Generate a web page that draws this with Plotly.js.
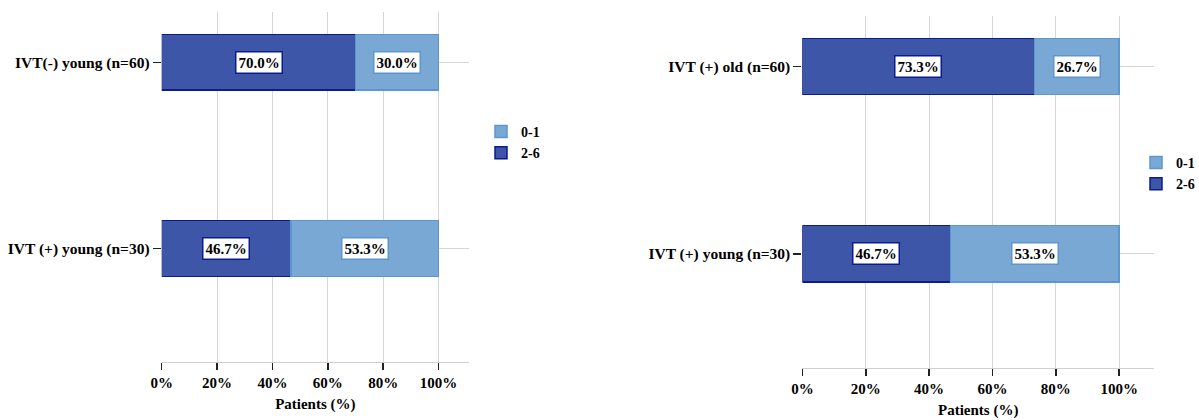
<!DOCTYPE html>
<html>
<head>
<meta charset="utf-8">
<script src="https://cdn.plot.ly/plotly-3.0.1.min.js"></script>
<style>html,body{margin:0;padding:0;background:#fff;}#chart{width:1199px;height:420px;}</style>
</head>
<body>
<div id="chart"></div>
<script>
// Left panel
const leftCategories = ["IVT (+) young (n=30)", "IVT(-) young (n=60)"];
const leftPoor = [46.7, 70.0];   // 2-6
const leftGood = [53.3, 30.0];   // 0-1
// Right panel
const rightCategories = ["IVT (+) young (n=30)", "IVT (+) old (n=60)"];
const rightPoor = [46.7, 73.3];  // 2-6
const rightGood = [53.3, 26.7];  // 0-1
const seriesNames = ["2-6", "0-1"];
const xTickVals = [0, 20, 40, 60, 80, 100];
const xTickText = ["0%", "20%", "40%", "60%", "80%", "100%"];
const xTitle = "Patients (%)";

const DARK = "#3e56a7", DARK_LINE = "#0b1d8c";
const LIGHT = "#79a8d5", LIGHT_LINE = "#5d95cd";
const FONT = "Liberation Serif";

function bars(cats, poor, good, xa, ya, leg) {
  return [
    {type: "bar", orientation: "h", name: seriesNames[0], y: cats, x: poor, xaxis: xa, yaxis: ya, legend: leg,
     marker: {color: DARK, line: {color: DARK_LINE, width: 1.5}}, hoverinfo: "skip"},
    {type: "bar", orientation: "h", name: seriesNames[1], y: cats, x: good, xaxis: xa, yaxis: ya, legend: leg,
     marker: {color: LIGHT, line: {color: LIGHT_LINE, width: 1.5}}, hoverinfo: "skip"}
  ];
}
function labels(cats, poor, good, xa, ya) {
  const out = [];
  cats.forEach((c, i) => {
    out.push({x: poor[i] / 2, y: c, xref: xa, yref: ya, text: poor[i].toFixed(1) + "%", showarrow: false,
      bgcolor: "#fff", bordercolor: DARK_LINE, borderwidth: 1.5, borderpad: 2,
      font: {family: FONT, size: 15, color: "#000", weight: "bold"}});
    out.push({x: poor[i] + good[i] / 2, y: c, xref: xa, yref: ya, text: good[i].toFixed(1) + "%", showarrow: false,
      bgcolor: "#fff", bordercolor: LIGHT_LINE, borderwidth: 1.5, borderpad: 2,
      font: {family: FONT, size: 15, color: "#000", weight: "bold"}});
  });
  return out;
}

const data = [].concat(
  bars(leftCategories, leftPoor, leftGood, "x", "y", "legend"),
  bars(rightCategories, rightPoor, rightGood, "x2", "y2", "legend2")
);

function xAxis(domain, anchor) {
  return {domain: domain, anchor: anchor, range: [0, 111], tickvals: xTickVals, ticktext: xTickText,
    showgrid: true, gridcolor: "#d6d6d6", gridwidth: 1, zeroline: false,
    showline: true, linecolor: "#d0d0d0", linewidth: 1,
    ticks: "outside", ticklen: 7, tickcolor: "#222", tickwidth: 1.5,
    tickfont: {family: FONT, size: 15, color: "#000", weight: "bold"},
    title: {text: xTitle, standoff: 8, font: {family: FONT, size: 15, color: "#000", weight: "bold"}},
    automargin: false, fixedrange: true};
}
function yAxis(domain, anchor, cats) {
  return {domain: domain, anchor: anchor, type: "category", categoryarray: cats, categoryorder: "array",
    range: [-0.61, 1.27], showgrid: true, gridcolor: "#d6d6d6", gridwidth: 1, zeroline: false, showline: false,
    ticks: "outside", ticklen: 8, tickcolor: "#222", tickwidth: 1.5,
    tickfont: {family: FONT, size: 15.5, color: "#000", weight: "bold"}, automargin: false, fixedrange: true};
}

const legendCommon = {traceorder: "reversed", bgcolor: "rgba(0,0,0,0)",
  font: {family: FONT, size: 14, color: "#000", weight: "bold"}, xanchor: "left", yanchor: "top",
  itemwidth: 30, tracegroupgap: 0};

const layout = {
  width: 1199, height: 420,
  margin: {l: 0, r: 0, t: 0, b: 0, autoexpand: false},
  paper_bgcolor: "#fff", plot_bgcolor: "#fff",
  barmode: "stack", bargap: 0.7,
  showlegend: true,
  xaxis: xAxis([161.7 / 1199, 469 / 1199], "y"),
  yaxis: yAxis([1 - 362 / 420, 1 - 12 / 420], "x", leftCategories),
  xaxis2: xAxis([802.4 / 1199, 1154 / 1199], "y2"),
  yaxis2: yAxis([1 - 368 / 420, 1 - 16 / 420], "x2", rightCategories),
  legend: Object.assign({}, legendCommon, {x: 481 / 1199, y: 1 - 116 / 420}),
  legend2: Object.assign({}, legendCommon, {x: 1136 / 1199, y: 1 - 147 / 420}),
  annotations: [].concat(
    labels(leftCategories, leftPoor, leftGood, "x", "y"),
    labels(rightCategories, rightPoor, rightGood, "x2", "y2")
  )
};

Plotly.newPlot("chart", data, layout, {staticPlot: true, displayModeBar: false});
</script>
</body>
</html>
